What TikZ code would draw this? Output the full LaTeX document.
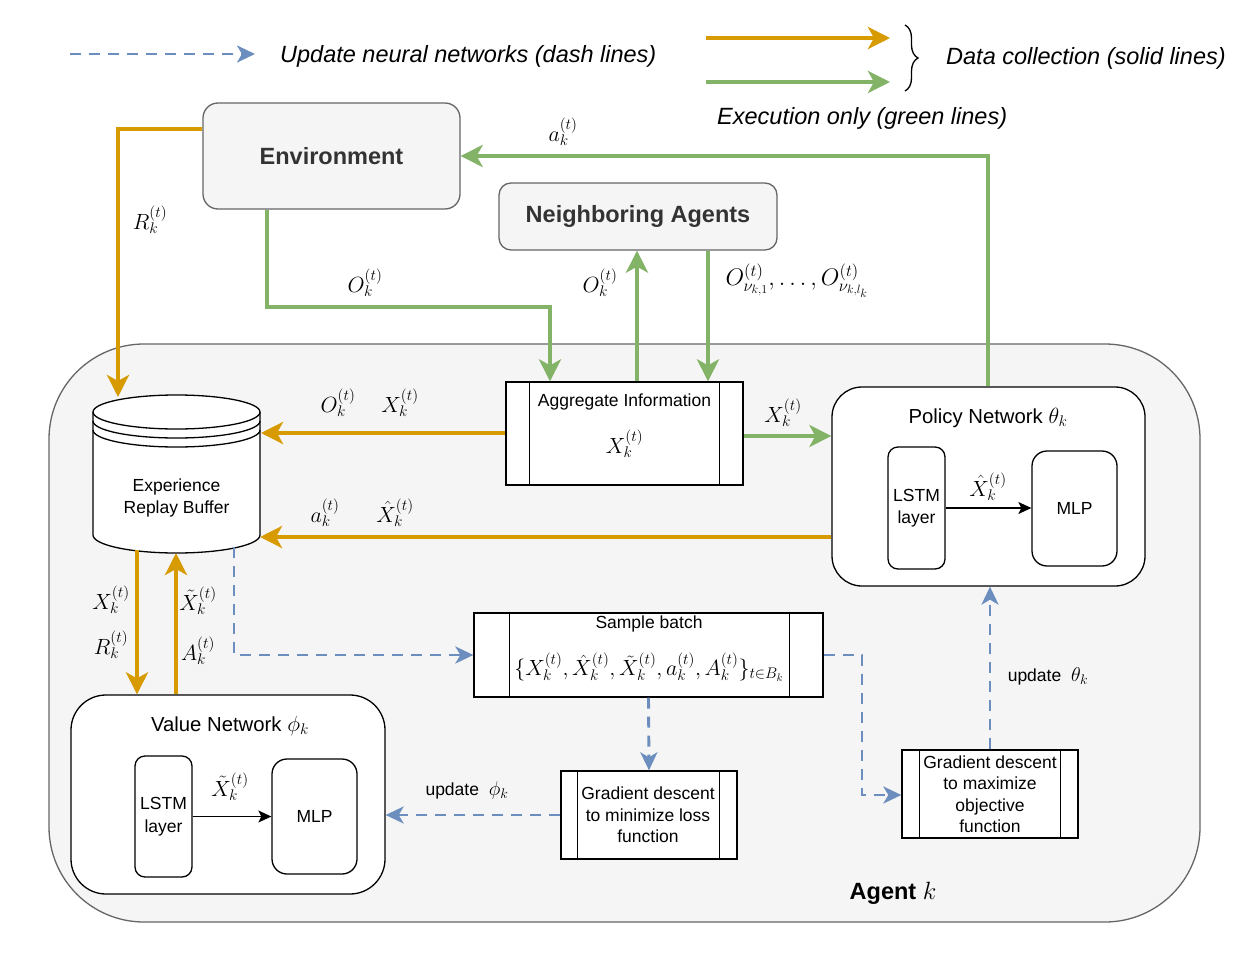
\RequirePackage{fix-cm}
\documentclass[tikz,border=0pt]{standalone}
\usepackage{fontspec}
\setmainfont{Liberation Sans}
\usetikzlibrary{arrows.meta,calc,decorations.pathreplacing}
\definecolor{org}{HTML}{D79B00}
\definecolor{grn}{HTML}{82B366}
\definecolor{blu}{HTML}{6C8EBF}
\definecolor{bgc}{HTML}{F5F5F5}
\definecolor{brd}{HTML}{666666}
\definecolor{txt}{HTML}{333333}
\tikzset{
  tnorm/.style={font=\fontsize{17.5}{21.5}\selectfont, inner sep=0pt},
  ttitle/.style={font=\fontsize{20.3}{24}\selectfont, inner sep=0pt},
  tleg/.style={font=\fontsize{23.5}{27}\selectfont\itshape, inner sep=0pt},
  mlab/.style={font=\fontsize{22}{26}\selectfont, inner sep=0pt},
  oarr/.style={draw=org, line width=4.2pt, -{Stealth[length=22pt,width=22pt,inset=6pt]}},
  garr/.style={draw=grn, line width=4.2pt, -{Stealth[length=22pt,width=22pt,inset=6pt]}},
  barr/.style={draw=blu, line width=2.9pt, dash pattern=on 11pt off 8pt, -{Stealth[length=18pt,width=17pt,inset=5pt]}},
  karr/.style={draw=black, line width=1.3pt, -{Stealth[length=13pt,width=12pt,inset=3pt]}},
  greybox/.style={draw=brd, fill=bgc, line width=1.3pt, rounded corners=15pt, font=\fontsize{23.5}{27}\selectfont\bfseries, text=txt},
  netbox/.style={draw=black, fill=white, line width=1.3pt, rounded corners=32pt},
  subbox/.style={draw=black, fill=white, line width=1.3pt, rounded corners=10pt, font=\fontsize{17.5}{22.5}\selectfont, align=center},
  procbox/.style={draw=black, fill=white, line width=1.3pt},
  procline/.style={draw=black, line width=1.3pt},
}
\begin{document}
\begin{tikzpicture}[x=1pt,y=-1pt]
\useasboundingbox[fill=white] (0,0) rectangle (1260,955);

% ---------- legend ----------
\coordinate (l1a) at (70,54);  \coordinate (l1b) at (255,54);
\draw[barr] (l1a) -- (l1b);
\node[tleg, anchor=west] (legU) at (280,56) {Update neural networks (dash lines)};
\coordinate (l2a) at (706,38); \coordinate (l2b) at (890,38);
\draw[oarr] (l2a) -- (l2b);
\coordinate (l3a) at (706,82); \coordinate (l3b) at (890,82);
\draw[garr] (l3a) -- (l3b);
\coordinate (br1) at (905,25); \coordinate (br2) at (905,91);
\draw[line width=1.3pt, decorate, decoration={brace, amplitude=13pt}] (br1) -- (br2);
\node[tleg, anchor=west] (legD) at (946,58) {Data collection (solid lines)};
\node[tleg, anchor=west] (legE) at (717,118) {Execution only (green lines)};

% ---------- agent container ----------
\node[draw=brd, fill=bgc, line width=1.3pt, rounded corners=95pt, minimum width=1151pt, minimum height=578pt] (agent) at (624.5,633) {};
\node[font=\fontsize{23.5}{27}\selectfont, inner sep=0pt] (agentlbl) at (893,893) {\textbf{Agent} \fontsize{25}{28}\selectfont$k$};

% ---------- top boxes ----------
\node[greybox, minimum width=257pt, minimum height=106pt] (env) at (331.5,156) {Environment};
\node[greybox, rounded corners=12pt, minimum width=278pt, minimum height=67pt] (nbr) at (638,216.5) {Neighboring Agents};

% ---------- replay buffer (datastore) ----------
\fill[white] (93,412) -- (93,535) arc[start angle=180, end angle=360, x radius=83.5pt, y radius=18pt] -- (260,412) arc[start angle=0, end angle=180, x radius=83.5pt, y radius=17pt] -- cycle;
\draw[line width=1.3pt] (93,412) -- (93,535) arc[start angle=180, end angle=360, x radius=83.5pt, y radius=18pt] -- (260,412);
\draw[line width=1.3pt] (176.5,412) ellipse[x radius=83.5pt, y radius=17pt];
\draw[line width=1.3pt] (93,421) arc[start angle=180, end angle=360, x radius=83.5pt, y radius=17pt];
\draw[line width=1.3pt] (93,430) arc[start angle=180, end angle=360, x radius=83.5pt, y radius=17pt];
\node[tnorm, align=center] (buf) at (176.5,498) {Experience\\Replay Buffer};
\coordinate (bufTop) at (118,397);
\coordinate (bufR1) at (261,433);
\coordinate (bufR2) at (260,537);
\coordinate (bufB1) at (137,550);
\coordinate (bufB2) at (176,553);
\coordinate (bufB3) at (234,547);

% ---------- aggregate information ----------
\node[procbox, minimum width=237pt, minimum height=103pt] (agg) at (624.5,433.5) {};
\draw[procline] ([xshift=24pt]agg.north west) -- ([xshift=24pt]agg.south west);
\draw[procline] ([xshift=-24pt]agg.north east) -- ([xshift=-24pt]agg.south east);
\node[tnorm] (aggT) at (624.5,402) {Aggregate Information};
\node[mlab] (aggM) at (624.5,444) {$X_k^{(t)}$};

% ---------- policy network ----------
\node[netbox, rounded corners=30pt, minimum width=313pt, minimum height=199pt] (pol) at (988.5,486.5) {};
\node[ttitle] (polT) at (988,418) {Policy Network \fontsize{22}{26}\selectfont$\theta_k$};
\node[subbox, minimum width=57pt, minimum height=122pt] (polL) at (916.5,508) {LSTM\\layer};
\node[subbox, rounded corners=15pt, minimum width=85pt, minimum height=115pt] (polM) at (1074.5,508.5) {MLP};
\draw[karr] (polL.east) -- (polL.east -| polM.west);
\node[mlab] (polX) at (988,487) {$\hat X_k^{(t)}$};

% ---------- value network ----------
\node[netbox, rounded corners=35pt, minimum width=314pt, minimum height=199pt] (val) at (228,794.5) {};
\node[ttitle] (valT) at (230,726) {Value Network \fontsize{22}{26}\selectfont$\phi_k$};
\node[subbox, minimum width=57pt, minimum height=121pt] (valL) at (163.5,816.5) {LSTM\\layer};
\node[subbox, rounded corners=15pt, minimum width=85pt, minimum height=115pt] (valM) at (314.5,816.5) {MLP};
\draw[karr] (valL.east) -- (valL.east -| valM.west);
\node[mlab] (valX) at (230,787) {$\tilde X_k^{(t)}$};

% ---------- sample batch ----------
\node[procbox, minimum width=349pt, minimum height=84pt] (smp) at (648.5,655) {};
\draw[procline] ([xshift=36pt]smp.north west) -- ([xshift=36pt]smp.south west);
\draw[procline] ([xshift=-34pt]smp.north east) -- ([xshift=-34pt]smp.south east);
\node[tnorm] (smpT) at (649,624) {Sample batch};
\node[font=\fontsize{22}{26}\selectfont, inner sep=0pt] (smpM) at (649,667) {$\{X_k^{(t)},\hat X_k^{(t)},\tilde X_k^{(t)},a_k^{(t)},A_k^{(t)}\}_{t\in B_k}$};

% ---------- gradient boxes ----------
\node[procbox, minimum width=176pt, minimum height=88pt] (gmin) at (649,815) {};
\draw[procline] ([xshift=17pt]gmin.north west) -- ([xshift=17pt]gmin.south west);
\draw[procline] ([xshift=-18pt]gmin.north east) -- ([xshift=-18pt]gmin.south east);
\node[tnorm, align=center] (gminT) at (648,815) {Gradient descent\\to minimize loss\\function};

\node[procbox, minimum width=176pt, minimum height=88pt] (gmax) at (990,794) {};
\draw[procline] ([xshift=18pt]gmax.north west) -- ([xshift=18pt]gmax.south west);
\draw[procline] ([xshift=-18pt]gmax.north east) -- ([xshift=-18pt]gmax.south east);
\node[tnorm, align=center] (gmaxT) at (990,794) {Gradient descent\\to maximize\\objective\\function};

% ---------- green connectors ----------
\coordinate (g1) at (267,307); \coordinate (g2) at (550,307);
\draw[garr] ([xshift=-64.5pt]env.south) -- (g1) -- (g2) -- (g2 |- agg.north);
\node[mlab] (lO1) at (365,283) {$O_k^{(t)}$};

\draw[garr] (agg.north -| 637,0) -- (nbr.south -| 637,0);
\node[mlab] (lO2) at (600,283) {$O_k^{(t)}$};

\draw[garr] (nbr.south -| 708,0) -- (agg.north -| 708,0);
\node[font=\fontsize{24}{28}\selectfont, inner sep=0pt] (lOn) at (797,281) {$O_{\nu_{k,1}}^{(t)},\ldots,O_{\nu_{k,l_k}}^{(t)}$};

\coordinate (g3) at (988,156);
\draw[garr] (pol.north -| g3) -- (g3) -- (env.east);
\node[mlab] (la1) at (563,132) {$a_k^{(t)}$};

\draw[garr] (agg.east |- 0,436) -- (pol.west |- 0,436);
\node[mlab] (lX1) at (783,413) {$X_k^{(t)}$};

% ---------- orange connectors ----------
\coordinate (o1) at (118,129);
\draw[oarr] (env.west |- o1) -- (o1) -- (bufTop);
\node[mlab] (lR1) at (150,220) {$R_k^{(t)}$};

\draw[oarr] (agg.west |- bufR1) -- (bufR1);
\node[mlab] (lO3) at (338,403) {$O_k^{(t)}$};
\node[mlab] (lX2) at (400,403) {$X_k^{(t)}$};

\draw[oarr] (pol.west |- bufR2) -- (bufR2);
\node[mlab] (la2) at (325,513) {$a_k^{(t)}$};
\node[mlab] (lXh) at (395,513) {$\hat X_k^{(t)}$};

\draw[oarr] (bufB1) -- (bufB1 |- val.north);
\node[mlab] (lX3) at (111,600) {$X_k^{(t)}$};
\node[mlab] (lR2) at (111,645) {$R_k^{(t)}$};

\draw[oarr] (val.north -| bufB2) -- (bufB2);
\node[mlab] (lXt) at (198,601) {$\tilde X_k^{(t)}$};
\node[mlab] (lA) at (198,651) {$A_k^{(t)}$};

% ---------- blue dashed connectors ----------
\coordinate (b1) at (234,655);
\draw[barr] (bufB3) -- (b1) -- (smp.west |- b1);

\draw[barr] (smp.south) -- (gmin.north);

\draw[barr] (gmin.west) -- (val.east |- gmin.west);
\node[tnorm] (lupd1) at (467,790) {update~ \fontsize{20}{24}\selectfont$\phi_k$};

\coordinate (b2) at (862,655); \coordinate (b3) at (862,795);
\draw[barr] (smp.east |- b2) -- (b2) -- (b3) -- (gmax.west |- b3);

\draw[barr] (gmax.north) -- (pol.south -| gmax.north);
\node[tnorm] (lupd2) at (1048,676) {update~ \fontsize{20}{24}\selectfont$\theta_k$};

\end{tikzpicture}
\end{document}
